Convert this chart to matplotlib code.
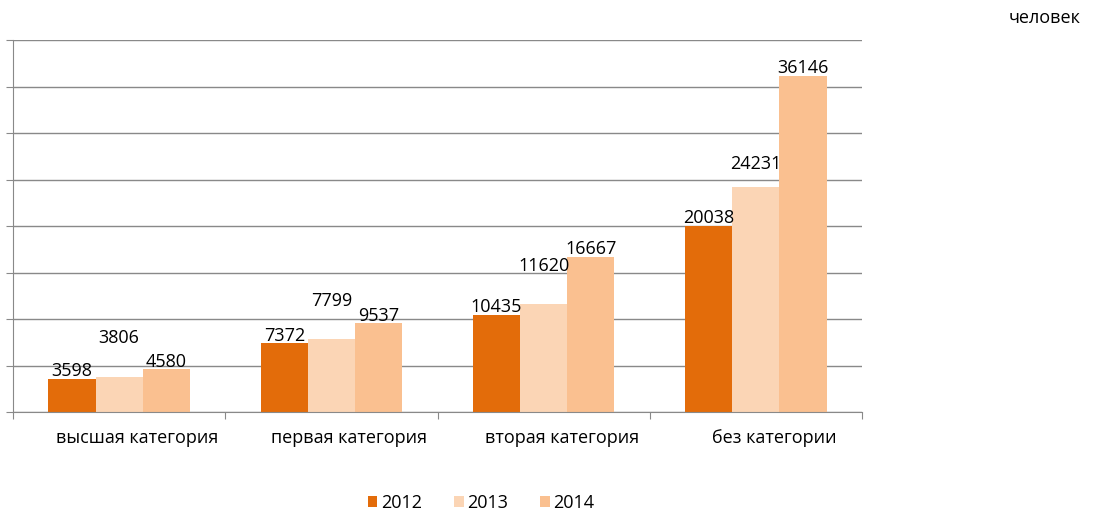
import matplotlib.pyplot as plt
import numpy as np

plt.rcParams['font.family'] = ['Open Sans', 'DejaVu Sans']

categories = ['высшая категория', 'первая категория', 'вторая категория', 'без категории']
years = ['2012', '2013', '2014']
v2012 = [3598, 7372, 10435, 20038]
v2013 = [3806, 7799, 11620, 24231]
v2014 = [4580, 9537, 16667, 36146]
colors = ['#E36C0A', '#FBD5B5', '#FAC090']

fig = plt.figure(figsize=(10.95, 5.14), dpi=100)
ax = fig.add_axes([13 / 1095, 102 / 514, 849 / 1095, 372 / 514])

x = np.arange(len(categories))
w = 0.222
series = [v2012, v2013, v2014]
# label offsets in points, 2013 labels are raised
label_pad = [[-1] * 4, [21, 21, 21, 10], [-1] * 4]
for i, (vals, c) in enumerate(zip(series, colors)):
    xs = x + (i - 1) * w
    ax.bar(xs, vals, width=w, color=c, zorder=2, label=years[i])
    for xi, v, p in zip(xs, vals, label_pad[i]):
        ax.annotate(str(v), (xi, v), xytext=(0, p), textcoords='offset points',
                    ha='center', va='bottom', fontsize=13, color='black', zorder=3)

ax.set_xlim(-0.5, 3.5)
ax.set_ylim(0, 40000)
ax.set_yticks(np.arange(0, 40001, 5000))
ax.set_yticklabels([])
ax.yaxis.grid(True, color='#898989', linewidth=1)
ax.set_axisbelow(True)

ax.set_xticks(np.arange(-0.5, 3.6, 1))
ax.set_xticklabels([])
ax.set_xticks(x + 0.085, minor=True)
ax.set_xticklabels(categories, minor=True, fontsize=13)
ax.tick_params(axis='x', which='minor', length=0, pad=12)
ax.tick_params(axis='x', which='major', length=5, color='#898989')
ax.tick_params(axis='y', length=5, color='#898989')

for s in ['top', 'right']:
    ax.spines[s].set_visible(False)
ax.spines['left'].set_color('#898989')
ax.spines['bottom'].set_color('#898989')

fig.legend(loc='center', bbox_to_anchor=(481 / 1095, 1 - 503 / 514), ncol=3, frameon=False,
           fontsize=13, handlelength=0.55, handleheight=0.55, handletextpad=0.2, columnspacing=1.75)

fig.text(1045 / 1095, 1 - 18 / 514, 'человек', ha='center', va='center', fontsize=13)

fig.savefig('out.png', dpi=100)
